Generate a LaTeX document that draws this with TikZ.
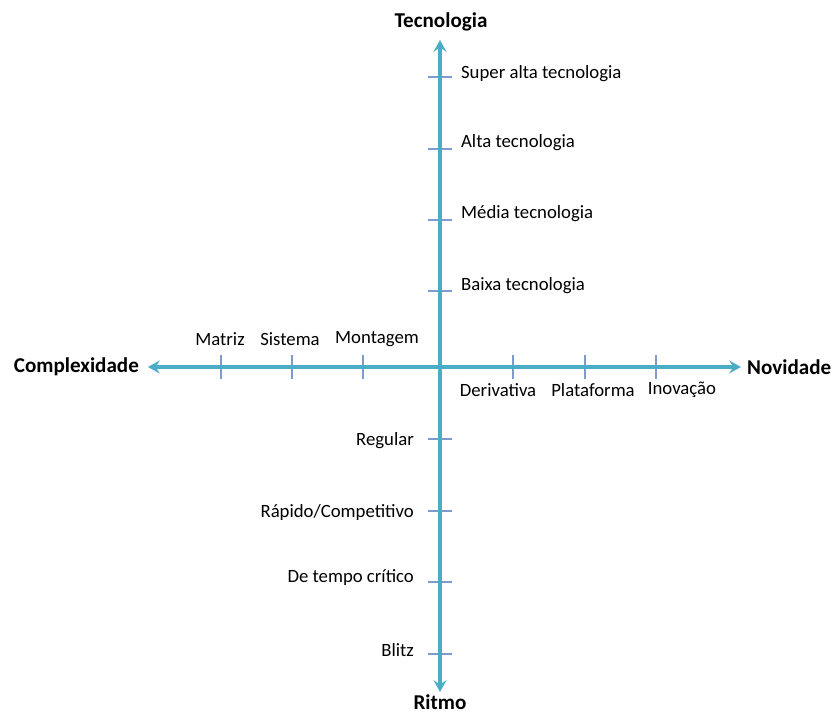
\documentclass[tikz,border=0pt]{standalone}
\usepackage{fontspec}
\setmainfont{Carlito}
\usetikzlibrary{arrows.meta, positioning}
\definecolor{AxisAqua}{RGB}{75, 172, 198}
\definecolor{TickBlue}{RGB}{125, 155, 205}

\begin{document}
\begin{tikzpicture}[x=0.03cm, y=-0.03cm,
    axis/.style={line width=2.6pt, color=AxisAqua, {Stealth[length=10pt, width=11pt, inset=3.5pt]}-{Stealth[length=10pt, width=11pt, inset=3.5pt]}},
    tickmark/.style={line width=0.9pt, color=TickBlue},
    lbl/.style={font=\fontsize{16}{18}\selectfont},
    ttl/.style={font=\fontsize{18}{21}\selectfont\bfseries}]
    \useasboundingbox (0, 0) rectangle (832, 713);

    % axis end points
    \coordinate (O) at (440, 367);
    \coordinate (N) at (440, 40);
    \coordinate (S) at (440, 692);
    \coordinate (W) at (148, 367);
    \coordinate (E) at (741, 367);

    % ticks
    \foreach \y in {77, 149, 220, 291, 439, 511, 582, 654}
        \draw[tickmark] (428, \y) -- (452, \y);
    \foreach \x in {221, 292, 363, 513, 585, 656}
        \draw[tickmark] (\x, 355) -- (\x, 379);

    % axes
    \draw[axis] (S) -- (N);
    \draw[axis] (W) -- (E);

    % axis titles
    \node[ttl] (tec) at (441, 22) {Tecnologia};
    \node[ttl, inner sep=1pt] (rit) at (440, 702) {Ritmo};
    \node[ttl, anchor=east] (comp) at (143, 367) {Complexidade};
    \node[ttl, anchor=west] (nov) at (743, 367) {Novidade};

    % technology levels
    \node[lbl, anchor=west] (superalta) at (457, 74) {Super alta tecnologia};
    \node[lbl, anchor=west] (alta) at (457, 143) {Alta tecnologia};
    \node[lbl, anchor=west] (media) at (457, 214) {Média tecnologia};
    \node[lbl, anchor=west] (baixa) at (457, 286) {Baixa tecnologia};

    % pace levels
    \node[lbl, anchor=east] (regular) at (418, 441) {Regular};
    \node[lbl, anchor=east] (rapido) at (418, 513) {Rápido/Competitivo};
    \node[lbl, anchor=east] (critico) at (418, 578) {De tempo crítico};
    \node[lbl, anchor=east] (blitz) at (418, 650) {Blitz};

    % complexity levels
    \node[lbl] (matriz) at (220, 339) {Matriz};
    \node[lbl] (sistema) at (290, 339) {Sistema};
    \node[lbl] (montagem) at (377, 339) {Montagem};

    % novelty levels
    \node[lbl] (deriv) at (498, 390) {Derivativa};
    \node[lbl] (plataf) at (593, 390) {Plataforma};
    \node[lbl] (inov) at (682, 390) {Inovação};
\end{tikzpicture}
\end{document}
